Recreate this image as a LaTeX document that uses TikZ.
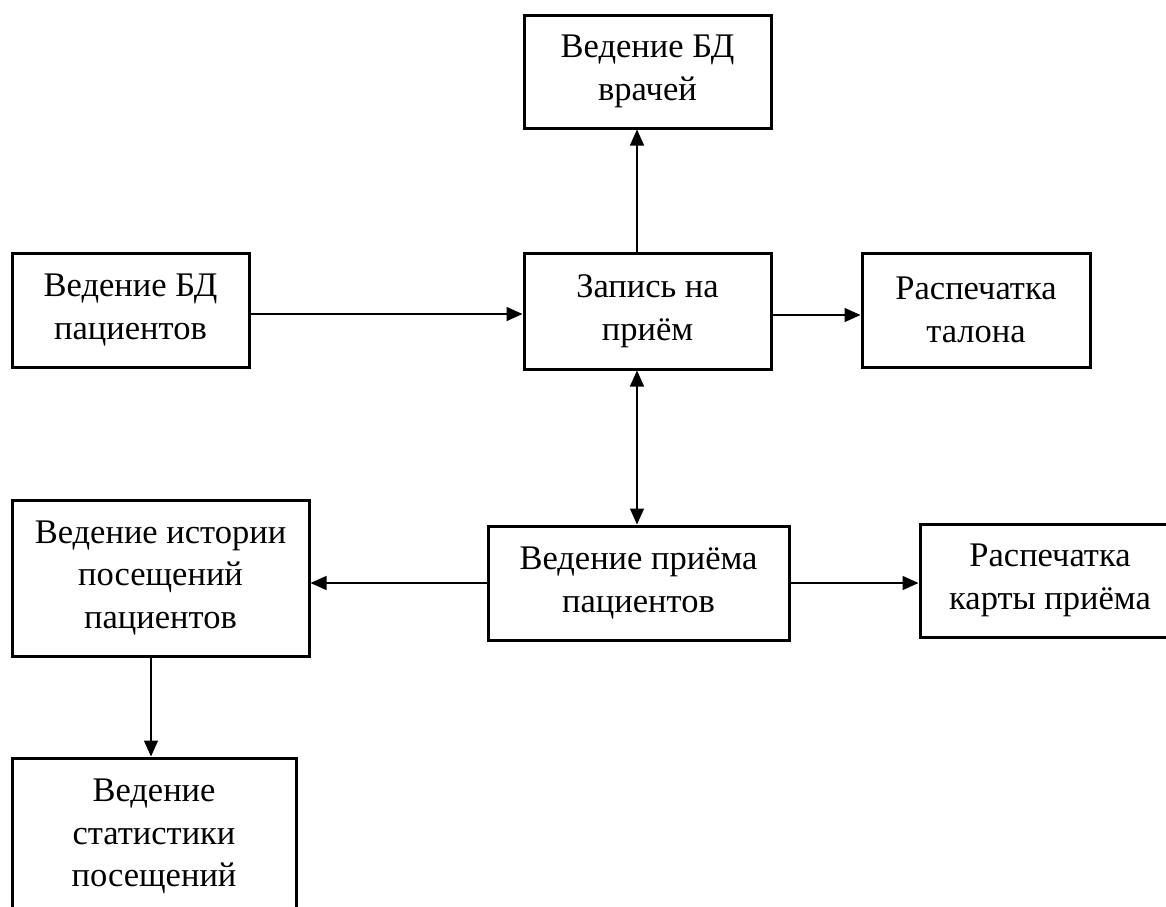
\documentclass[tikz,border=0pt]{standalone}
\usepackage{fontspec}
\setmainfont{Liberation Serif}
\usetikzlibrary{arrows.meta}
\begin{document}
\begin{tikzpicture}[x=1pt,y=-1pt,
  box/.style={draw, line width=3pt, rectangle, align=center, inner sep=0pt,
    font=\fontsize{34.5}{42.5}\selectfont},
  tip/.style={Triangle[length=16pt,width=14pt]},
  conn/.style={line width=1.4pt, -{Triangle[length=16pt,width=14pt]}},
  conn2/.style={line width=1.4pt, {Triangle[length=16pt,width=14pt]}-{Triangle[length=16pt,width=14pt]}}]
\useasboundingbox (0,0) rectangle (1166,906);
\clip (0,0) rectangle (1166,906);
\fill[white] (0,0) rectangle (1166,906);

% processing blocks
\node[box, minimum width=247pt, minimum height=113pt] (docs)  at (647.5,71.5) {Ведение БД\\врачей};
\node[box, minimum width=237pt, minimum height=114pt] (pats)  at (130.5,310)  {Ведение БД\\пациентов};
\node[box, minimum width=247pt, minimum height=116pt] (appt)  at (647.5,311)  {Запись на\\приём};
\node[box, minimum width=228pt, minimum height=114pt] (slip)  at (976,310)    {Распечатка\\талона};
\node[box, minimum width=301pt, minimum height=114pt] (visit) at (638.5,583)  {Ведение приёма\\пациентов};
\node[box, minimum width=260pt, minimum height=113pt] (card)  at (1050,580.5) {Распечатка\\карты приёма};
\node[box, minimum width=297pt, minimum height=156pt] (hist)  at (160.5,578)  {Ведение истории\\посещений\\пациентов};
\node[box, minimum width=284pt, minimum height=157pt] (stat)  at (154,836.5)  {Ведение\\статистики\\посещений};

% data flows
\coordinate (ax) at (637,0);
\coordinate (gx) at (151,0);
\draw[conn] ([yshift=-4pt]pats.east) -- ([yshift=-4pt]pats.east -| appt.west);
\draw[conn] ([yshift=-4pt]appt.east) -- ([yshift=-4pt]appt.east -| slip.west);
\draw[conn] (appt.north -| ax) -- (docs.south -| ax);
\draw[conn2] (appt.south -| ax) -- (visit.north -| ax);
\draw[conn] (visit.west) -- (visit.west -| hist.east);
\draw[conn] (visit.east) -- (visit.east -| card.west);
\draw[conn] (hist.south -| gx) -- (stat.north -| gx);
\end{tikzpicture}
\end{document}
